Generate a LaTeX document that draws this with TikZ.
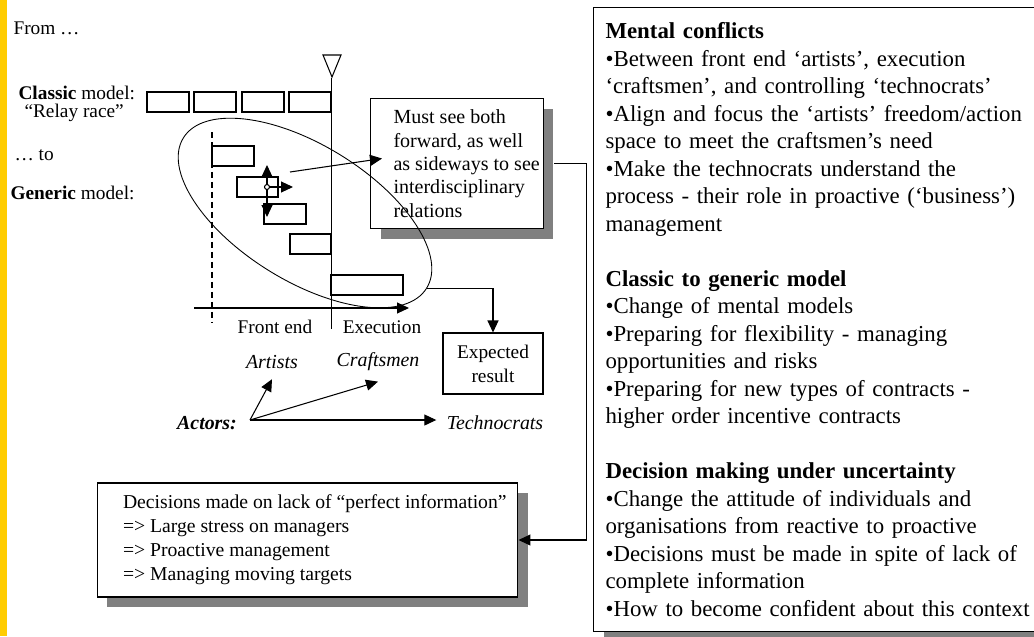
\documentclass[tikz,border=0pt]{standalone}
\usepackage{fontspec}
\setmainfont{Liberation Serif}
\usepackage{tikz}
\usetikzlibrary{shapes.geometric, arrows.meta, shadows}
\definecolor{stripe}{HTML}{FFCC00}
\definecolor{shade}{HTML}{808080}
\tikzstyle{arrow} = [->,>={Triangle[length=2.4mm,width=2.2mm]}]

\begin{document}
\begin{tikzpicture}
        [
            x=0.02cm, y=-0.02cm, line width=0.6pt,
            bar/.style={draw, fill=white},
            note/.style={draw, fill=white, align=left,
                general shadow={fill=shade, shadow xshift=0.2cm, shadow yshift=-0.2cm},
                font=\fontsize{11}{13.3}\selectfont},
            lbl/.style={font=\fontsize{11}{13}\selectfont, inner sep=0pt},
            role/.style={font=\fontsize{11.3}{13}\selectfont\itshape, inner sep=0.2cm},
        ]
    \useasboundingbox (0,0) rectangle (1034,636);
    \fill[stripe] (0,0) rectangle (7,636);

    % labels on the left
    \node[lbl, anchor=west] (from) at (13,28) {From \dots};
    \node[lbl, anchor=west] (classic) at (18,93) {\textbf{Classic} model:};
    \node[lbl, anchor=west] (relay) at (24,113) {“Relay race”};
    \node[lbl, anchor=west] (to) at (14,155) {\dots\ to};
    \node[lbl, anchor=west] (generic) at (10,193) {\textbf{Generic} model:};

    % relay race: one bar after the other
    \foreach \x in {147,194,242,289}
        \draw[bar] (\x,92) rectangle ++(42,20);
    % generic model: overlapping bars
    \foreach \x/\y/\w in {212/146/42, 237/177/41, 264/204/42, 290/234/41, 331/275/72}
        \draw[bar] (\x,\y) rectangle ++(\w,20);

    % milestone line, front end limit and time axis
    \draw (323,55) -- (341,55) -- (332,77) -- cycle;
    \draw (331.5,78) -- (331.5,329);
    \draw[dashed, dash pattern=on 0.12cm off 0.08cm] (212,132) -- (212,323);
    \draw[arrow] (194,308) -- (409,308);
    \node[lbl] (front) at (275,327) {Front end};
    \node[lbl] (exec) at (382,327) {Execution};

    % moving in all directions
    \node[circle, draw, fill=white, inner sep=0pt, minimum size=0.1cm] (pivot) at (267,187) {};
    \draw[arrow] (pivot) -- ++(0,-22);
    \draw[arrow] (pivot) -- ++(0,30);
    \draw[arrow] (pivot) -- ++(26,0);

    \node[note, anchor=north west, minimum width=3.46cm, minimum height=2.6cm] (insight) at (370,98) {};
    \node[lbl, anchor=west, align=left, font=\fontsize{11.4}{13.3}\selectfont] (insighttext)
        at ([xshift=0.46cm]insight.west)
        {Must see both\\forward, as well\\as sideways to see\\interdisciplinary\\relations};
    \coordinate (gaze) at (290,172);
    \draw[arrow] (gaze) -- ([shift={(12,-5)}]insight.west);

    \node[draw, ellipse, rotate=-31.7, minimum width=5.72cm, minimum height=2.72cm,
        inner sep=0pt, line width=0.5pt] (focus) at (305,213) {};

    \node[draw, align=center, minimum width=2cm, minimum height=1.22cm,
        font=\fontsize{11}{13.6}\selectfont] (expected) at (493,363.5) {Expected\\result};
    \draw[arrow] (focus.east) -| (expected.north);

    % actors
    \node[role] (artists) at (272,362) {Artists};
    \node[role] (craftsmen) at (378,362) {Craftsmen};
    \node[role] (techno) at (495,423) {Technocrats};
    \node[lbl, font=\fontsize{11.3}{13}\selectfont\bfseries\itshape] (actors) at (207,423) {Actors:};
    \coordinate (hub) at (250,420);
    \draw[arrow] (hub) -- (artists.south);
    \draw[arrow] (hub) -- (craftsmen.south);
    \draw[arrow] (hub) -- (hub -| techno.west);

    \node[note, minimum width=8.42cm, minimum height=2.28cm] (decide) at (307.5,540) {};
    \node[lbl, anchor=west, align=left, font=\fontsize{11.2}{13.6}\selectfont] (decidetext)
        at ([xshift=0.52cm]decide.west)
        {Decisions made on lack of “perfect information”\\
         => Large stress on managers\\
         => Proactive management\\
         => Managing moving targets};
    \draw[arrow, shorten <=0.2cm] (insight.east) -- ++(42,0) |- (decide.east);

    % issues panel
    \node[note, anchor=north west, text width=9.2cm, inner xsep=0.24cm, minimum height=12.48cm,
        font=\fontsize{13}{15.65}\selectfont] (issues) at (593,7)
        {\textbf{Mental conflicts}\\
         •Between front end ‘artists’, execution\\
         ‘craftsmen’, and controlling ‘technocrats’\\
         •Align and focus the ‘artists’ freedom/action\\
         space to meet the craftsmen’s need\\
         •Make the technocrats understand the\\
         process - their role in proactive (‘business’)\\
         management\\[\baselineskip]
         \textbf{Classic to generic model}\\
         •Change of mental models\\
         •Preparing for flexibility - managing\\
         opportunities and risks\\
         •Preparing for new types of contracts -\\
         higher order incentive contracts\\[\baselineskip]
         \textbf{Decision making under uncertainty}\\
         •Change the attitude of individuals and\\
         organisations from reactive to proactive\\
         •Decisions must be made in spite of lack of\\
         complete information\\
         •How to become confident about this context};
\end{tikzpicture}
\end{document}
